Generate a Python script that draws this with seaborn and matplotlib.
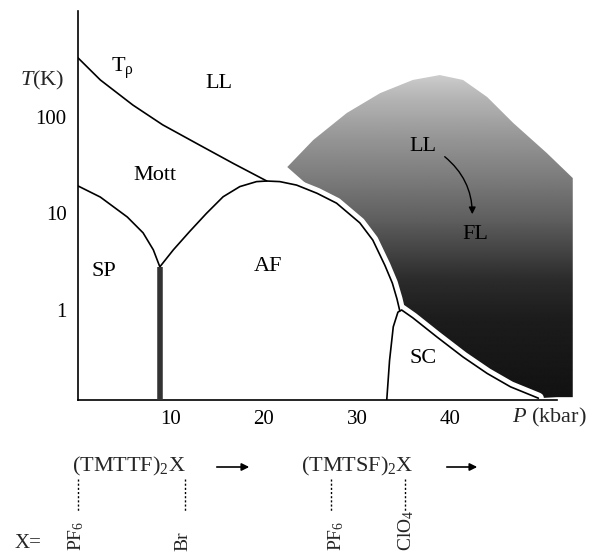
import numpy as np
import pandas as pd
import matplotlib
matplotlib.use("Agg")
import matplotlib.pyplot as plt
from matplotlib.patches import Polygon
from matplotlib.ticker import NullLocator
import seaborn as sns

# Phase boundaries of the Bechgaard/Fabre salts, pressure P (kbar) vs temperature T (K)
# T_rho: crossover from the Luttinger liquid to the Mott-localised regime
trho_P = [0.0, 2.4, 5.9, 9.1, 13.1, 16.7, 20.3]
trho_T = [410, 242, 133, 83, 51, 33, 21.7]

# spin-Peierls boundary
sp_P = [0.0, 2.4, 5.3, 7.0, 8.1, 8.8]
sp_T = [19.3, 14.8, 9.2, 6.3, 4.2, 2.8]

# antiferromagnetic (SDW) dome
af_P = [8.8, 10.25, 12.0, 13.8, 15.6, 17.4, 19.2, 20.3, 21.7, 23.5, 25.7, 27.8,
        30.3, 31.7, 33.0, 33.8, 34.3, 34.6]
af_T = [2.8, 4.2, 6.5, 10.0, 14.9, 19.0, 21.4, 21.7, 21.4, 19.7, 16.2, 12.8,
        8.0, 5.3, 2.9, 1.9, 1.3, 0.98]

# superconducting dome
sc_P = [33.2, 33.5, 33.9, 34.4, 34.8, 36.0, 38.6, 41.4, 44.0, 46.5, 49.5]
sc_T = [0.117, 0.30, 0.67, 0.95, 1.0, 0.83, 0.525, 0.326, 0.22, 0.16, 0.122]

# metallic (LL -> FL) region, outline
metal_P = [22.5, 25.7, 27.8, 30.3, 31.7, 33.0, 33.8, 34.3, 34.6, 34.8, 36.0, 38.6,
           41.4, 44.0, 46.5, 49.5, 51.5, 53.2, 53.2, 50.4, 46.8, 44.0, 41.4,
           38.9, 36.0, 32.5, 28.9, 25.3]
metal_T = [30.3, 16.2, 12.8, 8.0, 5.3, 2.9, 1.9, 1.3, 0.98, 1.0, 0.83, 0.525,
           0.326, 0.22, 0.16, 0.122, 0.125, 0.125, 23.3, 42.4, 86.7, 161, 242,
           272, 242, 177, 110, 57.8]

# axis ticks
x_ticks = [10, 20, 30, 40]
y_ticks = [1, 10, 100]
y_tick_labels = ["1", "10", "100"]

# region names: (text, P, T)
region_names = ["T$_{\\mathrm{\\rho}}$", "LL", "Mott", "SP", "AF", "SC", "LL", "FL"]
region_P = [4.8, 15.1, 8.3, 2.8, 20.4, 37.1, 37.1, 42.7]
region_T = [322, 225, 24.5, 2.5, 2.8, 0.318, 50, 6.1]

# anions placed on the pressure scale (figure pixel x)
anion_names = ["PF$_6$", "Br", "PF$_6$", "ClO$_4$"]
anion_x = [78, 185, 331, 405]
anion_label_x = [76, 183, 336, 406]

sns.set_theme(style="white")
plt.rcParams["font.family"] = ["Liberation Serif", "DejaVu Serif"]
plt.rcParams["mathtext.fontset"] = "custom"
plt.rcParams["mathtext.rm"] = "Liberation Serif"
plt.rcParams["mathtext.it"] = "Liberation Serif:italic"
plt.rcParams["mathtext.bf"] = "Liberation Serif:bold"

W, H = 593, 556
fig = plt.figure(figsize=(W / 100, H / 100), dpi=100)
fig.patch.set_facecolor("white")
ax = fig.add_axes([78 / W, 156 / H, 502.2 / W, 389 / H])
ax.set_facecolor("white")
ax.set_yscale("log")
x_lo, x_hi = 0, 54
y_lo, y_hi = 0.1168, 1254

# shaded metallic region with a vertical grey gradient
poly = Polygon(np.column_stack([metal_P, metal_T]), closed=True,
               transform=ax.transData, facecolor="none", edgecolor="none")
ax.add_patch(poly)
f = np.linspace(0, 1, 400)
gray = np.interp(f, [0, 0.206, 0.308, 0.386, 0.463, 0.566, 0.668, 0.771, 0.835, 1.0],
                 [0.07, 0.11, 0.17, 0.27, 0.37, 0.48, 0.58, 0.70, 0.80, 0.85])
img = np.tile(gray[:, None], (1, 2))
im = ax.imshow(img, extent=[0, 1, 0, 1], transform=ax.transAxes, origin="lower",
               cmap="gray", vmin=0, vmax=1, aspect="auto",
               interpolation="bilinear", zorder=1)
im.set_clip_path(poly)

# white margin separating the ordered phases from the metallic region
af_edge = pd.DataFrame({"P": af_P, "T": af_T})
af_edge = af_edge[af_edge["P"] >= 23.0]
sc_edge = pd.DataFrame({"P": sc_P[4:], "T": sc_T[4:]})
for d in (af_edge, sc_edge):
    sns.lineplot(data=d, x="P", y="T", sort=False, estimator=None, ax=ax,
                 color="white", lw=8, zorder=2, solid_capstyle="round")

# phase boundaries
for P, T in ((trho_P, trho_T), (sp_P, sp_T), (af_P, af_T), (sc_P, sc_T)):
    sns.lineplot(x=P, y=T, sort=False, estimator=None, ax=ax,
                 color="black", lw=1.2, zorder=3)
ax.vlines(sp_P[-1], y_lo, sp_T[-1], color="#333333", lw=4, zorder=3)

# curved arrow from LL to FL
ax.annotate("", xy=(42.4, 9.2), xytext=(39.2, 40.4),
            arrowprops=dict(arrowstyle="-|>", color="black", lw=1.0,
                            mutation_scale=10,
                            connectionstyle="arc3,rad=-0.25"), zorder=4)

for s, P, T in zip(region_names, region_P, region_T):
    ax.text(P, T, s, ha="center", va="center", fontsize=16, color="black", zorder=5)

ax.set_xlim(x_lo, x_hi)
ax.set_ylim(y_lo, y_hi)
for side in ("top", "right"):
    ax.spines[side].set_visible(False)
for side in ("left", "bottom"):
    ax.spines[side].set_color("black")
    ax.spines[side].set_linewidth(1.2)
ax.spines["bottom"].set_bounds(0, 51.5)
ax.set_xticks(x_ticks)
ax.set_xticklabels([str(v) for v in x_ticks])
ax.set_yticks(y_ticks)
ax.set_yticklabels(y_tick_labels)
ax.yaxis.set_minor_locator(NullLocator())
ax.xaxis.set_minor_locator(NullLocator())
ax.tick_params(axis="both", direction="inout", length=8.6, width=1.0,
               colors="black", labelsize=15)
ax.tick_params(axis="x", pad=3)
ax.tick_params(axis="y", pad=4)
ax.set_xlabel("")
ax.set_ylabel("")
ax.grid(False)

# axis titles
fig.text(20 / W, 1 - 80 / H, "$T$(K)", ha="left", va="center", fontsize=16)
fig.text(512 / W, 1 - 417 / H, "$P$ (kbar)", ha="left", va="center", fontsize=16)

# compound families under the pressure axis
def fp(x, y):
    return (x / W, 1 - y / H)

fig.text(*fp(72, 466), "(TMTTF)$_2$X", ha="left", va="center", fontsize=16)
fig.text(*fp(301, 466), "(TMTSF)$_2$X", ha="left", va="center", fontsize=16)
for x0, x1 in ((214, 252), (444, 480)):
    fig.add_artist(matplotlib.patches.FancyArrowPatch(
        fp(x0, 467), fp(x1, 467), transform=fig.transFigure,
        arrowstyle="-|>", mutation_scale=11, lw=1.2, color="black"))
for x in anion_x:
    fig.add_artist(matplotlib.lines.Line2D(
        [x / W, x / W], [1 - 479 / H, 1 - 511 / H], transform=fig.transFigure,
        color="black", lw=1.0, linestyle=(0, (1.5, 1.5))))
for s, x in zip(anion_names, anion_label_x):
    fig.text(*fp(x, 551), s, rotation=90, ha="center", va="bottom", fontsize=14)
fig.text(*fp(15, 543), "X=", ha="left", va="center", fontsize=15)

fig.savefig("out.png", dpi=100, facecolor="white")
